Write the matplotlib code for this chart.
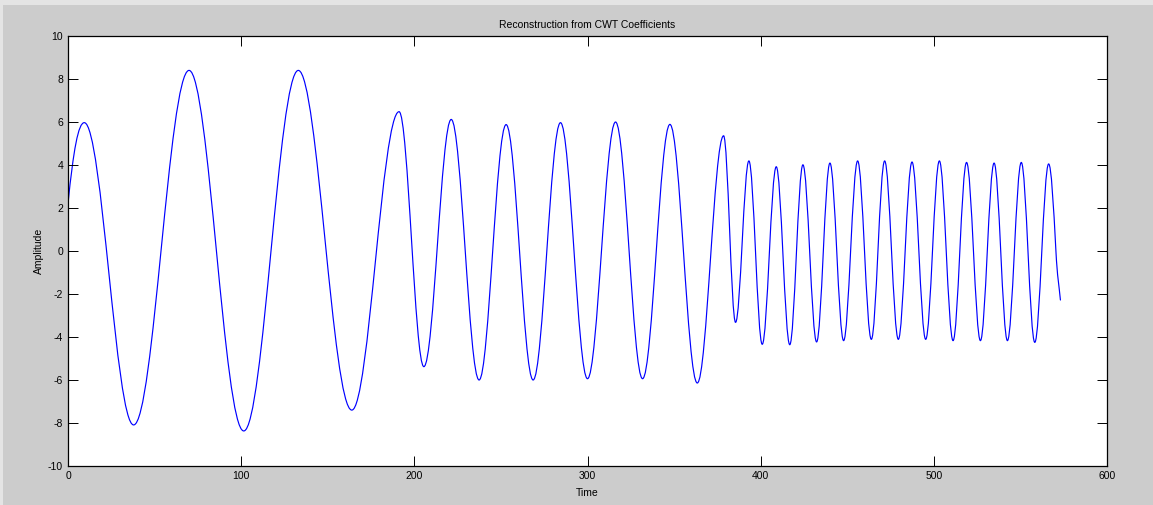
import matplotlib
matplotlib.use("Agg")
import matplotlib.pyplot as plt
from matplotlib.path import Path
from matplotlib.patches import PathPatch, Rectangle

plt.rcParams["axes.unicode_minus"] = False

# ---- data (extrema of the reconstructed signal) ----
times = [0.0, 9.4, 37.9, 69.9, 101.5, 133.0, 163.9, 191.2, 205.5, 221.3,
         237.4, 253.0, 268.6, 284.4, 300.0, 316.2, 331.8, 347.6, 363.4,
         378.6, 385.5, 393.2, 400.9, 409.0, 416.8, 424.4, 432.3, 440.0,
         447.9, 456.0, 463.9, 471.6, 479.5, 487.4, 495.3, 503.2, 511.1,
         518.9, 526.9, 534.8, 542.5, 550.5, 558.3, 566.3, 570.5, 573.1]
amps = [2.20, 5.97, -8.09, 8.40, -8.37, 8.40, -7.40, 6.48, -5.38, 6.12,
        -6.00, 5.88, -6.00, 5.97, -5.94, 6.00, -5.94, 5.89, -6.14,
        5.36, -3.32, 4.19, -4.34, 3.92, -4.36, 4.01, -4.23, 4.09,
        -4.17, 4.19, -4.11, 4.19, -4.11, 4.14, -4.11, 4.19, -4.17,
        4.12, -4.17, 4.09, -4.17, 4.12, -4.25, 4.05, 0.00, -2.28]
# local slope of the curve at each point (0 at peaks and troughs)
slopes = [0.8] + [0.0] * 43 + [-1.5, -0.85]

x_ticks = [0, 100, 200, 300, 400, 500, 600]
y_ticks = [-10, -8, -6, -4, -2, 0, 2, 4, 6, 8, 10]
title_text = "Reconstruction from CWT Coefficients"
x_label = "Time"
y_label = "Amplitude"

# ---- figure ----
W, H = 1153, 505
fig = plt.figure(figsize=(W / 100, H / 100), dpi=100, facecolor="#cccccc")
fig.patches.append(Rectangle((0, 1 - 5 / H), 1, 5 / H, transform=fig.transFigure,
                             facecolor="#e4e4e4", edgecolor="none"))
fig.patches.append(Rectangle((0, 0), 3 / W, 1, transform=fig.transFigure,
                             facecolor="#e4e4e4", edgecolor="none"))

ax = fig.add_axes([68 / W, 1 - 466 / H, (1107 - 68) / W, (466 - 36) / H])
ax.set_facecolor("white")

# smooth curve through the read extrema, drawn by matplotlib's Bezier path
K = 0.363
verts = [(times[0], amps[0])]
codes = [Path.MOVETO]
for i in range(len(times) - 1):
    t0, y0, m0 = times[i], amps[i], slopes[i]
    t1, y1, m1 = times[i + 1], amps[i + 1], slopes[i + 1]
    dt = t1 - t0
    h0 = dt * (K if m0 == 0 else 1 / 3)
    h1 = dt * (K if m1 == 0 else 1 / 3)
    verts += [(t0 + h0, y0 + m0 * h0), (t1 - h1, y1 - m1 * h1), (t1, y1)]
    codes += [Path.CURVE4] * 3
ax.add_patch(PathPatch(Path(verts, codes), fill=False, edgecolor="#0000ff",
                       linewidth=0.85, capstyle="round", joinstyle="round"))

ax.set_xlim(x_ticks[0], x_ticks[-1])
ax.set_ylim(y_ticks[0], y_ticks[-1])
ax.set_xticks(x_ticks)
ax.set_yticks(y_ticks)

fam = ["Liberation Sans", "DejaVu Sans"]
ax.tick_params(direction="in", top=True, right=True, length=7.5, width=0.7,
               labelsize=7.5, pad=3.5, colors="black")
for lab in ax.get_xticklabels() + ax.get_yticklabels():
    lab.set_fontfamily(fam)
for sp in ax.spines.values():
    sp.set_linewidth(0.9)
    sp.set_color("black")

ax.set_title(title_text, fontsize=7.5, family=fam, pad=5.5)
ax.set_xlabel(x_label, fontsize=7.5, family=fam, labelpad=5)
ax.set_ylabel(y_label, fontsize=7.5, family=fam, labelpad=3)

fig.savefig("out.png", dpi=100, facecolor=fig.get_facecolor())
